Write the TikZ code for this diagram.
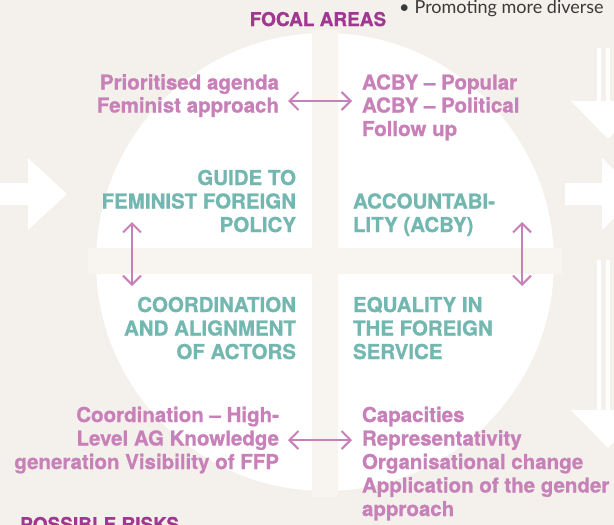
\documentclass[tikz,border=0pt]{standalone}
\usepackage{fontspec}
\setmainfont{TeX Gyre Heros}
\newfontfamily\heavyfont[FakeBold=0.9]{TeX Gyre Heros}
\newfontfamily\greyfont{Lato}
\usetikzlibrary{arrows.meta}
\definecolor{bgc}{HTML}{F4F0EB}
\definecolor{barc}{HTML}{F8F5F1}
\definecolor{pinkc}{HTML}{C880B9}
\definecolor{tealc}{HTML}{72B8B0}
\definecolor{purplec}{HTML}{A03891}
\definecolor{greyc}{HTML}{3A3A3A}
\begin{document}
\begin{tikzpicture}[x=1pt,y=-1pt,
  txt/.style={inner sep=0pt, outer sep=0pt, font=\heavyfont\bfseries\fontsize{20.5}{23.5}\selectfont},
  pinkR/.style={txt, text=pinkc, anchor=base east},
  pinkL/.style={txt, text=pinkc, anchor=base west},
  tealR/.style={txt, text=tealc, anchor=base east},
  tealL/.style={txt, text=tealc, anchor=base west},
  head/.style={inner sep=0pt, text=purplec, font=\heavyfont\bfseries\fontsize{19}{22}\selectfont},
  link/.style={draw=pinkc, line width=2pt, {Straight Barb[length=9pt,width=18pt,line width=2pt]}-{Straight Barb[length=9pt,width=18pt,line width=2pt]}},
  whiteshape/.style={fill=white, draw=none}]
\fill[bgc] (0,0) rectangle (614,525);
\useasboundingbox (0,0) rectangle (614,525);
% big circle and cross bars
\fill[white] (325,262) circle[radius=229];
\fill[barc] (312,30) rectangle (338,497);
\fill[barc] (88,248) rectangle (562,274);
% white arrows
\fill[whiteshape] (0,183) -- (28,183) -- (28,158) -- (67,194) -- (28,230) -- (28,205) -- (0,205) -- cycle;
\fill[whiteshape] (565,183) -- (602,183) -- (602,158) -- (638,194) -- (602,230) -- (602,205) -- (565,205) -- cycle;
\fill[whiteshape] (597,48) rectangle (601,102);
\fill[whiteshape] (606,48) rectangle (610,102);
\fill[whiteshape] (571,101) -- (645,101) -- (608,139) -- cycle;
\fill[whiteshape] (597,260) rectangle (601,411);
\fill[whiteshape] (606,260) rectangle (610,411);
\fill[whiteshape] (571,410) -- (645,410) -- (608,448) -- cycle;
% headings
\node[head, anchor=base] (focal) at (318,26) {FOCAL AREAS};
\node[head, anchor=base west] (risks) at (20,531) {POSSIBLE RISKS};
\node[inner sep=0pt, anchor=base west, text=greyc, font=\greyfont\fontsize{18}{21}\selectfont] (promo) at (399,13.5) {•\hspace{5pt}Promoting more diverse};
% top-left pink
\node[pinkR] (pa1) at (279,89.5) {Prioritised agenda};
\node[pinkR] (pa2) at (279,112.5) {Feminist approach};
% top-right pink
\node[pinkL] (pb1) at (362,89.5) {ACBY – Popular};
\node[pinkL] (pb2) at (362,112.5) {ACBY – Political};
\node[pinkL] (pb3) at (362,136) {Follow up};
% teal quadrants
\node[tealR] (g1) at (296,185) {GUIDE TO};
\node[tealR] (g2) at (296,208.5) {FEMINIST FOREIGN};
\node[tealR] (g3) at (296,232) {POLICY};
\node[tealL] (ac1) at (353,208.5) {ACCOUNTABI-};
\node[tealL] (ac2) at (353,232) {LITY (ACBY)};
\node[tealR] (co1) at (296,312) {COORDINATION};
\node[tealR] (co2) at (296,335.5) {AND ALIGNMENT};
\node[tealR] (co3) at (296,359) {OF ACTORS};
\node[tealL] (eq1) at (353,312) {EQUALITY IN};
\node[tealL] (eq2) at (353,335.5) {THE FOREIGN};
\node[tealL] (eq3) at (353,359) {SERVICE};
% bottom-left pink
\node[pinkR] (pc1) at (279,422) {Coordination – High-};
\node[pinkR] (pc2) at (279,445.5) {Level AG Knowledge};
\node[pinkR] (pc3) at (279,469) {generation Visibility of FFP};
% bottom-right pink
\node[pinkL] (pd1) at (362,422) {Capacities};
\node[pinkL] (pd2) at (362,445.5) {Representativity};
\node[pinkL] (pd3) at (362,469) {Organisational change};
\node[pinkL] (pd4) at (362,492.5) {Application of the gender};
\node[pinkL] (pd5) at (362,516) {approach};
% double arrows
\coordinate (t1) at (288,101);
\coordinate (t2) at (352,101);
\coordinate (b1) at (288,440);
\coordinate (b2) at (352,440);
\coordinate (l1) at (132,222);
\coordinate (l2) at (132,286);
\coordinate (r1) at (522,222);
\coordinate (r2) at (522,286);
\draw[link] (t1) -- (t2);
\draw[link] (b1) -- (b2);
\draw[link] (l1) -- (l2);
\draw[link] (r1) -- (r2);
\end{tikzpicture}
\end{document}
